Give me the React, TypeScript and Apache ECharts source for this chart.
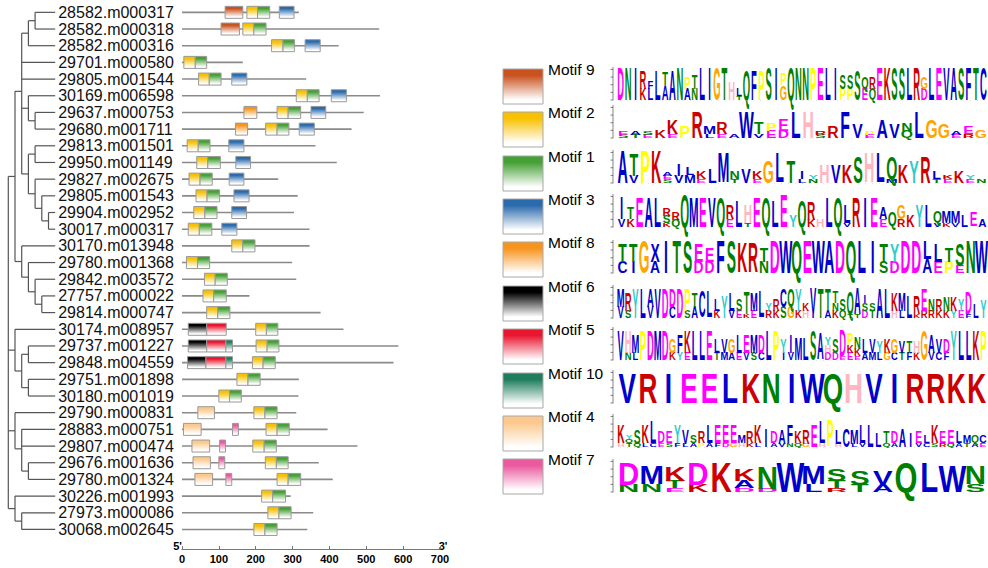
import React, { useEffect, useRef } from "react";
import * as echarts from "echarts";

// ---------------- data ----------------
const GENE_NAMES = [
  "28582.m000317", "28582.m000318", "28582.m000316", "29701.m000580", "29805.m001544",
  "30169.m006598", "29637.m000753", "29680.m001711", "29813.m001501", "29950.m001149",
  "29827.m002675", "29805.m001543", "29904.m002952", "30017.m000317", "30170.m013948",
  "29780.m001368", "29842.m003572", "27757.m000022", "29814.m000747", "30174.m008957",
  "29737.m001227", "29848.m004559", "29751.m001898", "30180.m001019", "29790.m000831",
  "28883.m000751", "29807.m000474", "29676.m001636", "29780.m001324", "30226.m001993",
  "27973.m000086", "30068.m002645",
];

const GENE_LENGTHS = [
  317, 535, 425, 165, 337, 537, 493, 460, 362, 420, 261, 314, 304, 346, 346, 299,
  310, 183, 376, 438, 587, 574, 317, 316, 310, 395, 476, 371, 409, 295, 356, 340,
];

// [row, motif, start, end]
const MOTIF_HITS = [
  [0, 9, 117, 165], [0, 2, 176, 205], [0, 1, 205, 238], [0, 3, 264, 304],
  [1, 9, 106, 156], [1, 2, 165, 195], [1, 1, 195, 228],
  [2, 2, 243, 274], [2, 1, 274, 305], [2, 3, 334, 375],
  [3, 2, 5, 36], [3, 1, 36, 67],
  [4, 2, 45, 74], [4, 1, 74, 106], [4, 3, 135, 176],
  [5, 2, 310, 340], [5, 1, 340, 372], [5, 3, 405, 446],
  [6, 8, 168, 203], [6, 2, 258, 288], [6, 1, 288, 322], [6, 3, 350, 390],
  [7, 8, 145, 178], [7, 2, 227, 258], [7, 1, 258, 290], [7, 3, 318, 359],
  [8, 2, 14, 44], [8, 1, 44, 76], [8, 3, 127, 168],
  [9, 2, 40, 70], [9, 1, 70, 104], [9, 3, 146, 186],
  [10, 2, 19, 49], [10, 1, 49, 82], [10, 3, 128, 168],
  [11, 2, 38, 68], [11, 1, 68, 102], [11, 3, 141, 182],
  [12, 2, 32, 62], [12, 1, 62, 95], [12, 3, 135, 175],
  [13, 2, 17, 47], [13, 1, 47, 81], [13, 3, 108, 149],
  [14, 2, 135, 165], [14, 1, 165, 198],
  [15, 2, 12, 42], [15, 1, 42, 75],
  [16, 2, 61, 90], [16, 1, 90, 123],
  [17, 2, 57, 86], [17, 1, 86, 120],
  [18, 2, 67, 97], [18, 1, 97, 130],
  [19, 6, 17, 67], [19, 5, 67, 120], [19, 2, 200, 229], [19, 1, 229, 260],
  [20, 6, 17, 67], [20, 5, 67, 119], [20, 10, 119, 137], [20, 2, 201, 231], [20, 1, 231, 263],
  [21, 6, 15, 65], [21, 5, 65, 119], [21, 10, 119, 137], [21, 2, 191, 220], [21, 1, 220, 253],
  [22, 2, 149, 179], [22, 1, 179, 212],
  [23, 2, 100, 129], [23, 1, 129, 161],
  [24, 4, 43, 88], [24, 2, 195, 225], [24, 1, 225, 258],
  [25, 4, 4, 52], [25, 7, 137, 153], [25, 2, 228, 258], [25, 1, 258, 291],
  [26, 4, 27, 75], [26, 7, 102, 118], [26, 2, 192, 223], [26, 1, 223, 256],
  [27, 4, 30, 77], [27, 7, 100, 116], [27, 2, 226, 256], [27, 1, 256, 288],
  [28, 4, 35, 83], [28, 7, 119, 135], [28, 2, 258, 288], [28, 1, 288, 322],
  [29, 2, 216, 246], [29, 1, 246, 281],
  [30, 2, 233, 263], [30, 1, 263, 296],
  [31, 2, 195, 225], [31, 1, 225, 258],
];

// tree topology (leaf numbers = row index)
const CLADE_A = "(((0,1),2),3,4,(5,(6,7)),((8,9),(10,(11,(12,13)))))";
const CLADE_B = "(14,(15,(16,(17,18))))";
const CLADE_C = "(19,((20,21),(22,23)))";
const CLADE_D = "(24,(25,26,(27,28)))";
const CLADE_E = "(29,(30,31))";
const TREE_NEWICK = "((" + CLADE_A + "," + CLADE_B + ")," + CLADE_C + "," + CLADE_D + "," + CLADE_E + ")";

const AXIS_MAX = 700;
const AXIS_STEP = 100;

const LEGEND_MOTIFS = [9, 2, 1, 3, 8, 6, 5, 10, 4, 7];

// sequence logos: columns, each column = letters top->bottom with heights (9 = full)
const LOGO_9 = "D9 N9 I9 R5K3 F2L3 L8 T4A4 A8 N9 P3A3 T4N3 L9 I9 G9 T9 H5 L2T1 Q8 F8 P8 S9 I9 P3G4 Q9 N9 N9 P9 E9 L9 I9 S4P3 S4P3 S8 Q3E3 R3Q3 E9 K9 S9 S9 L9 R9 G3D3 L9 E9 V9 A9 S9 F9 T9 C9";
const LOGO_2 = "E1S1 A1T1 S1E1 K2 K4E1 P3 R7 M2L1 R3E1 A1 W7 T3V1 P2E2 E3D2 L7 H7 R1S1 R3 F7 V4 P1E1 A5 V4 N2Q2 L7 G5 G4 A1E1 E2R1 G2";
const LOGO_1 = "A9 T6V2 P9 K9 A1E1S1 I3V2 L2M2 K2E1 L4 M8 N2T1 V4 K2E1 G6 L8 T6 I2L1 Y1N1 H5 V5 K5 S7 H8 L8 Q6M1 K5 Y6 R7 L2T1 K1E1 K3 Y1E1 N1";
const LOGO_3 = "I6V2 T3K2 E8 A8 L8 R2S2K1 R2Q2 Q9 M8 E8 V8 Q8 R4E2 L7 H5T1 E8 Q8 L7 E9 Y3 Q7 R5K2 H2 L8 Q8 L5V1 R8 I8 E8 A3E2 Q4 G4R2 K3 Y6 L6 Q3V1 M3K1 M3V1 L3 E4 A2";
const LOGO_8 = "T5C3 T5I3 G9 X5A3 I9 T9 S9 E5D3 E4D3 F9 S9 K8 R8 T4N3 D9 W9 Q9 E9 W9 A9 D9 Q9 L9 I9 T5S3 Y5D3 D9 D9 L5A4 L5E3 T4P3 S6E2 N9 W9";
const LOGO_6 = "M5V3 R5S2 Y8 L8 A5V3 V8 D8 D5C3 D8 P6S2 T4A3 C7 L7 L3K2 Y6 L5V2 S3E2 T6K1 M5E2 L7 Y2R2 R3K2 C5S3 Q5G3 Y6K2 K2H2 V7I1 T8 T6A2 T3N2K2 S3Q2 Q6T1 A7T1 I2S2D2 S2T2 A8 L8 K5H2 M5L2 L6 R5K1 E6R2 N3R2 R3K2 N4K2 K4Y2 Y3E2 D6F1 L4 Y5";
const LOGO_5 = "V8 H6N2 M5L2 P8 D8 M8 D8 G4K2 F5Y2 K6E2 L8 L8 E8 L4T2 V4M2 G4A2 L5E2 E5V2 M5S2 D5C2 L8 P8 Y4I2 I5V2 M6 L6 S8 A7 Y2H2D2 S4D2 D7E1 P3K2E2 N3K2E1 L4A2 V4M2 Y3L2 K4G2 G4C2 V3T2 T3F2 H3K2 G8 A5V2 V4C2 D4F2 Y8 L8 L8 K8 P8";
const LOGO_10 = "V8 R8 I8 E8 E8 L8 K8 N8 I8 W8 Q8 H8 V8 I8 R8 R8 K8 K8";
const LOGO_4 = "K5H1 Y1Q1T1 S4Q1 K5L1 L6C1 D3E1 E3S1 Y5F1 V4L1 S2A1 R3P1 L5A1 E5F1 E5D1 E5G1 M2H1 R3K1 K5L1 I5 D3A1 A4V1 F5N1 K3Q1 R4G1 E6 L6H1 P7 L4H1 C5 M4L1 L5V1 L6 L4 T3Q1 D3A1 A5 I4 E3V1 L2C1 K5S1 E3R1 E4Q1 L3A1 M2T1 Q2A1 C2E1";
const LOGO_7 = "D6N2 M5N2 K4T2E1 D6K2 K8 K3A2D1 N6D1 W8 M5L2 S3T2R1 S4T2 V4A2 Q8 L8 W7 N5S2";

const LOGOS: Record<number, string> = {
  9: LOGO_9, 2: LOGO_2, 1: LOGO_1, 3: LOGO_3, 8: LOGO_8,
  6: LOGO_6, 5: LOGO_5, 10: LOGO_10, 4: LOGO_4, 7: LOGO_7,
};

// ---------------- styles / layout ----------------
const FONT = '"Liberation Sans", Arial, Helvetica, sans-serif';
const MOTIF_COLORS: Record<number, string> = {
  9: "#c9521f", 2: "#f8c000", 1: "#45a035", 3: "#2a6aad", 8: "#f7941e",
  6: "#000000", 5: "#e8162f", 10: "#1d7d5c", 4: "#fcc88c", 7: "#ea5a9f",
};
const LETTER_GROUPS: [string, string][] = [
  ["ACFILVWMX", "#0000cc"],
  ["NQST", "#008000"],
  ["DE", "#ff00ff"],
  ["KR", "#cc0000"],
  ["H", "#ffb6c1"],
  ["G", "#ffa500"],
  ["P", "#ffff00"],
  ["Y", "#30cccc"],
];
const LEGEND_TOP = [69, 112, 156, 199, 242, 286, 329, 373, 416, 459];
const LOGO_BASE = [100, 138, 183, 227, 273, 318, 360, 403, 447, 492];
const GRID_TOP = 4;
const GRID_H = 533.8;
const LEAF_X = 7;

function letterColor(l: string) {
  for (const [g, c] of LETTER_GROUPS) if (g.indexOf(l) >= 0) return c;
  return "#0000cc";
}

function grad(col: string) {
  return new echarts.graphic.LinearGradient(0, 0, 0, 1, [
    { offset: 0, color: col },
    { offset: 0.18, color: col },
    { offset: 0.88, color: "#ffffff" },
    { offset: 1, color: "#ffffff" },
  ]);
}

type TNode = { children: TNode[]; leaf: number | null; depth: number; y: number };

function parseNewick(s: string): TNode {
  let i = 0;
  function node(depth: number): TNode {
    if (s[i] === "(") {
      i++;
      const children: TNode[] = [];
      while (i < s.length) {
        children.push(node(depth + 1));
        if (s[i] === ",") { i++; continue; }
        if (s[i] === ")") { i++; break; }
      }
      const y = children.reduce((a, c) => a + c.y, 0) / children.length;
      return { children, leaf: null, depth, y };
    }
    let num = "";
    while (i < s.length && /[0-9]/.test(s[i])) num += s[i++];
    const leaf = parseInt(num, 10);
    return { children: [], leaf, depth, y: leaf };
  }
  return node(0);
}

function treeSegments(n: TNode, out: number[][]) {
  if (!n.children.length) return;
  const ys = n.children.map((c) => c.y);
  out.push([n.depth, Math.min(...ys), n.depth, Math.max(...ys)]);
  n.children.forEach((c) => {
    out.push([n.depth, c.y, c.leaf === null ? c.depth : LEAF_X, c.y]);
    treeSegments(c, out);
  });
}

function parseLogo(s: string): [string, number][][] {
  return s.trim().split(/\s+/).map((col) => {
    const out: [string, number][] = [];
    const re = /([A-Z])(\d)/g;
    let m: RegExpExecArray | null;
    while ((m = re.exec(col))) out.push([m[1], +m[2]]);
    return out;
  });
}

function buildGraphics() {
  const els: any[] = [];
  const LOGO_LEFT = 617;
  const LOGO_WIDTH = 370;
  const LOGO_H = 33;
  const FS = 20;
  const CAP = 0.7 * FS;
  LEGEND_MOTIFS.forEach((m, i) => {
    const top = LEGEND_TOP[i];
    els.push({
      type: "rect", silent: true,
      shape: { x: 503, y: top, width: 40, height: 35 },
      style: { fill: grad(MOTIF_COLORS[m]), stroke: "#a8a8a8", lineWidth: 1 },
    });
    els.push({
      type: "text", silent: true, x: 548, y: top, z: 5,
      style: { text: "Motif " + m, font: `15.5px ${FONT}`, fill: "#000", align: "left", verticalAlign: "middle" },
    });
    // logo
    const cols = parseLogo(LOGOS[m]);
    const c = LOGO_WIDTH / cols.length;
    const base = LOGO_BASE[i];
    const sx = (0.92 * c) / (0.722 * FS);
    cols.forEach((stack, k) => {
      const cx = LOGO_LEFT + (k + 0.5) * c;
      let y = base;
      for (let j = stack.length - 1; j >= 0; j--) {
        const [L, h] = stack[j];
        const hp = (h * LOGO_H) / 9;
        els.push({
          type: "text", silent: true, x: cx, y: y - hp / 2, scaleX: sx, scaleY: hp / CAP,
          style: { text: L, font: `bold ${FS}px ${FONT}`, fill: letterColor(L), align: "center", verticalAlign: "middle" },
        });
        y -= hp;
      }
    });
    // small bits axis
    els.push({
      type: "line", silent: true,
      shape: { x1: 613, y1: base - LOGO_H, x2: 613, y2: base },
      style: { stroke: "#333", lineWidth: 0.6 },
    });
    for (let t = 0; t <= 4; t++) {
      const ty = base - (t * LOGO_H) / 4.32;
      els.push({
        type: "line", silent: true,
        shape: { x1: 610.5, y1: ty, x2: 613, y2: ty },
        style: { stroke: "#333", lineWidth: 0.6 },
      });
    }
    els.push({
      type: "line", silent: true,
      shape: { x1: 613, y1: base + 0.5, x2: 613 + LOGO_WIDTH, y2: base + 0.5 },
      style: { stroke: "#bbb", lineWidth: 0.4, lineDash: [1, 6] },
    });
  });
  els.push({
    type: "text", silent: true, x: 177.5, y: 545.5,
    style: { text: "5'", font: `bold 11px ${FONT}`, fill: "#000", align: "center", verticalAlign: "middle" },
  });
  els.push({
    type: "text", silent: true, x: 443, y: 545.5,
    style: { text: "3'", font: `bold 11px ${FONT}`, fill: "#000", align: "center", verticalAlign: "middle" },
  });
  return els;
}

export default function App() {
  const ref = useRef<HTMLDivElement>(null);
  useEffect(() => {
    if (!ref.current) return;
    const chart = echarts.init(ref.current, undefined, { renderer: "svg" });
    const root = parseNewick(TREE_NEWICK);
    const segs: number[][] = [];
    treeSegments(root, segs);

    const option: any = {
      animation: false,
      backgroundColor: "#ffffff",
      grid: [
        { left: 8.3, top: GRID_TOP, width: 46.9, height: GRID_H },
        { left: 182, top: GRID_TOP, width: 258, height: GRID_H },
      ],
      xAxis: [
        { gridIndex: 0, type: "value", min: 0, max: LEAF_X, show: false },
        {
          gridIndex: 1, type: "value", min: 0, max: AXIS_MAX, interval: AXIS_STEP,
          position: "bottom", offset: 11.2,
          axisLine: { show: true, onZero: false, lineStyle: { color: "#777", width: 1 } },
          axisTick: { show: true, inside: true, length: 3, lineStyle: { color: "#777" } },
          axisLabel: { show: true, color: "#000", fontWeight: "bold", fontSize: 11, margin: 4, fontFamily: FONT, showMinLabel: true, showMaxLabel: true },
          splitLine: { show: false },
        },
      ],
      yAxis: [
        { gridIndex: 0, type: "value", min: -0.5, max: 31.5, inverse: true, show: false },
        { gridIndex: 1, type: "value", min: -0.5, max: 31.5, inverse: true, show: false },
      ],
      series: [
        {
          type: "custom", xAxisIndex: 0, yAxisIndex: 0, clip: false, silent: true,
          data: segs,
          encode: { x: [0, 2], y: [1, 3] },
          renderItem: (params: any, api: any) => {
            const p1 = api.coord([api.value(0), api.value(1)]);
            const p2 = api.coord([api.value(2), api.value(3)]);
            return {
              type: "line",
              shape: { x1: p1[0], y1: p1[1], x2: p2[0], y2: p2[1] },
              style: { stroke: "#555", lineWidth: 1.2 },
            };
          },
        },
        {
          type: "custom", xAxisIndex: 0, yAxisIndex: 0, clip: false, silent: true,
          data: GENE_NAMES.map((_, i) => [LEAF_X, i]),
          renderItem: (params: any, api: any) => {
            const p = api.coord([api.value(0), api.value(1)]);
            return {
              type: "text", x: p[0] + 3, y: p[1],
              style: { text: GENE_NAMES[params.dataIndex], font: `16px ${FONT}`, fill: "#111", align: "left", verticalAlign: "middle" },
            };
          },
        },
        {
          type: "custom", xAxisIndex: 1, yAxisIndex: 1, clip: false, silent: true,
          data: GENE_LENGTHS.map((len, i) => [len, i]),
          renderItem: (params: any, api: any) => {
            const p1 = api.coord([0, api.value(1)]);
            const p2 = api.coord([api.value(0), api.value(1)]);
            return {
              type: "line",
              shape: { x1: p1[0], y1: p1[1], x2: p2[0], y2: p2[1] },
              style: { stroke: "#8a8a8a", lineWidth: 1.6 },
            };
          },
        },
        {
          type: "custom", xAxisIndex: 1, yAxisIndex: 1, clip: false, silent: true,
          data: MOTIF_HITS.map((h) => [h[2], h[0], h[3], h[1]]),
          renderItem: (params: any, api: any) => {
            const p1 = api.coord([api.value(0), api.value(1)]);
            const p2 = api.coord([api.value(2), api.value(1)]);
            const col = MOTIF_COLORS[api.value(3)];
            return {
              type: "rect",
              shape: { x: p1[0], y: p1[1] - 6, width: p2[0] - p1[0], height: 12 },
              style: { fill: grad(col), stroke: "#999", lineWidth: 1 },
            };
          },
        },
      ],
      graphic: { elements: buildGraphics() },
    };
    chart.setOption(option);
    return () => chart.dispose();
  }, []);
  return (
    <div
      ref={ref}
      style={{ position: "fixed", left: 0, top: 0, width: 988, height: 568, background: "#fff" }}
    />
  );
}
